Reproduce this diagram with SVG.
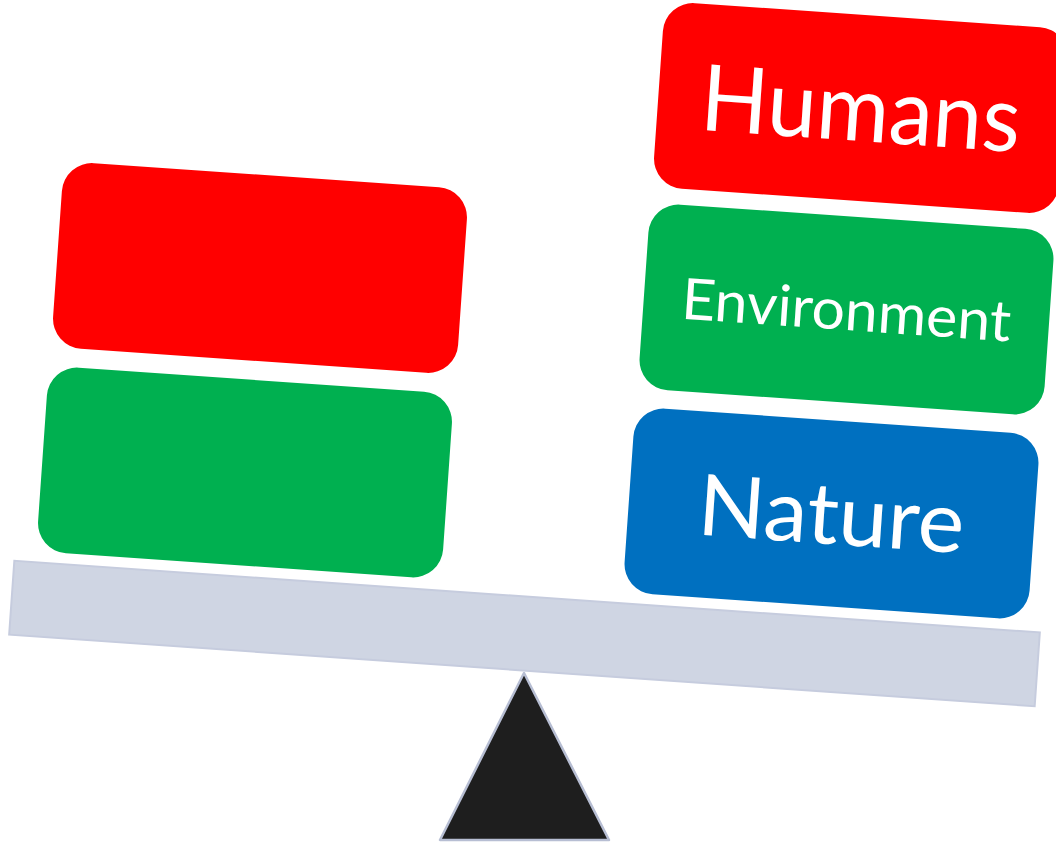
<svg xmlns="http://www.w3.org/2000/svg" width="1056" height="845" viewBox="0 0 1056 845">
<style>
.box{rx:30;ry:30}
.lbl{font-family:Lato,"Open Sans","Liberation Sans",sans-serif;fill:#FFFFFF;text-anchor:middle}
</style>
<rect width="1056" height="845" fill="#FFFFFF"/>
<g id="beam">
<rect x="-514" y="-37" width="1028" height="74" fill="#CFD5E3" stroke="#C6CCDE" stroke-width="2" transform="translate(524.5,633.5) rotate(4)"/>
</g>
<g id="fulcrum">
<polygon points="524,673 440,840 609,840" fill="#1E1E1E" stroke="#B7BED3" stroke-width="2.5" stroke-linejoin="round"/>
</g>
<g id="left-red" transform="translate(260,268) rotate(4)">
<rect class="box" x="-203" y="-93" width="406" height="186" fill="#FF0000"/>
</g>
<g id="left-green" transform="translate(245,472.5) rotate(4)">
<rect class="box" x="-203" y="-93" width="406" height="186" fill="#00B050"/>
</g>
<g id="humans" transform="translate(861,108) rotate(4)">
<rect class="box" x="-203" y="-93" width="406" height="186" fill="#FF0000"/>
<text class="lbl" x="0" y="33" font-size="92" textLength="320" lengthAdjust="spacingAndGlyphs">Humans</text>
</g>
<g id="environment" transform="translate(846.5,309.5) rotate(4)">
<rect class="box" x="-203" y="-93" width="406" height="186" fill="#00B050"/>
<text class="lbl" x="0" y="20.5" font-size="57" textLength="330" lengthAdjust="spacingAndGlyphs">Environment</text>
</g>
<g id="nature" transform="translate(831.5,513.5) rotate(4)">
<rect class="box" x="-203" y="-93" width="406" height="186" fill="#0070C0"/>
<text class="lbl" x="0" y="30.5" font-size="85" textLength="267" lengthAdjust="spacingAndGlyphs">Nature</text>
</g>
</svg>
